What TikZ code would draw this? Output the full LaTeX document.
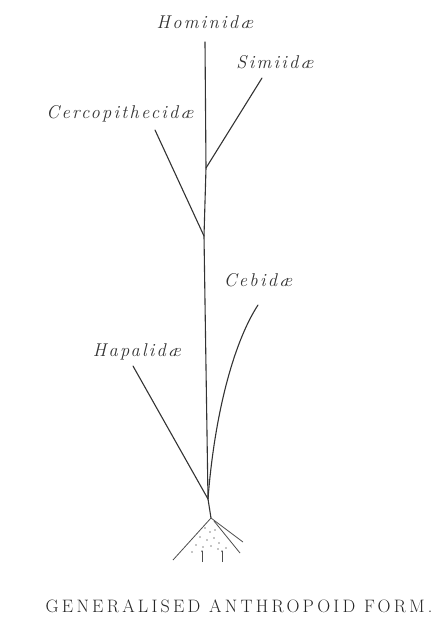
\documentclass[tikz,border=0pt]{standalone}
\usepackage{fontspec}
\usetikzlibrary{arrows.meta}
\newfontfamily\taxonfont[LetterSpace=12]{Latin Modern Roman}
\newfontfamily\capfont[LetterSpace=18]{Latin Modern Roman}

\begin{document}
\begin{tikzpicture}[x=1pt, y=-1pt,
    taxon/.style={font=\taxonfont\fontsize{18.5}{18.5}\selectfont\itshape, inner sep=1pt, text=black!80},
    caption/.style={font=\capfont\fontsize{18}{18}\selectfont, inner sep=1pt, text=black!85},
    branch/.style={line width=1.1pt, draw=black!80, line cap=round},
    fan/.style={line width=0.8pt, draw=black!70},
    speck/.style={fill=black!45}
]
\useasboundingbox (0,0) rectangle (431,619);

% --- Familias ---
\node[taxon] (hom) at (205,22) {Hominid\ae};
\node[taxon] (sim) at (275,62) {Simiid\ae};
\node[taxon] (cer) at (120,114) {Cercopithecid\ae};
\node[taxon] (ceb) at (258,280) {Cebid\ae};
\node[taxon] (hap) at (137,352) {Hapalid\ae};

% --- Puntos del tronco ---
\coordinate (top)  at (205,42);
\coordinate (jSim) at (206,168);
\coordinate (jCer) at (204,236);
\coordinate (jHap) at (208,499);
\coordinate (root) at (211,518);

% puntas de las ramas
\coordinate (tSim) at (262,78);
\coordinate (tCer) at (155,130);
\coordinate (tCeb) at (258,305);
\coordinate (tHap) at (133,366);

% --- Tronco ---
\draw[branch] (root) -- (jHap) -- (jCer) -- (jSim) -- (top);

% --- Ramas ---
\draw[branch] (tSim) -- (jSim);
\draw[branch] (tCer) -- (jCer);
\draw[branch] (tCeb) .. controls (232,345) and (214,420) .. (jHap);
\draw[branch] (tHap) -- (jHap);

% --- Forma generalizada (base) ---
\draw[fan] (173,560) -- (root) -- (243,542);
\draw[fan] (214,521) -- (240,553);
\foreach \p in {(205,528),(210,532),(215,530),(200,537),(207,540),(214,538),(219,543),
                (196,545),(203,547),(211,546),(218,549),(192,552),(226,548)}
  \fill[speck] \p circle (0.8);
\draw[fan, line width=0.5pt, -{Stealth[length=2pt]}] (202,562) -- (202,550);
\draw[fan, line width=0.5pt, -{Stealth[length=2pt]}] (222,562) -- (222,550);

% --- Leyenda ---
\node[caption] (cap) at (239,606) {GENERALISED ANTHROPOID FORM.};

\end{tikzpicture}
\end{document}
